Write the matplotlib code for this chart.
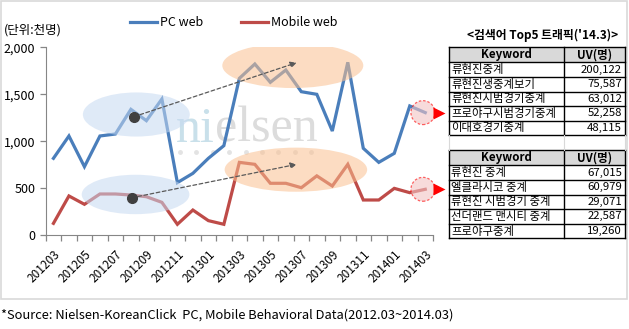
import matplotlib
matplotlib.use("Agg")
import matplotlib.pyplot as plt
from matplotlib.patches import Ellipse, Rectangle

plt.rcParams["font.family"] = ["Noto Sans CJK KR", "DejaVu Sans"]

# monthly unique visitors (thousands)
months = ["201203", "201204", "201205", "201206", "201207", "201208", "201209",
          "201210", "201211", "201212", "201301", "201302", "201303", "201304",
          "201305", "201306", "201307", "201308", "201309", "201310", "201311",
          "201312", "201401", "201402", "201403"]
pc_web = [817, 1055, 728, 1055, 1076, 1339, 1218, 1449, 558, 657, 817, 952,
          1669, 1822, 1627, 1758, 1527, 1499, 1108, 1840, 924, 774, 870, 1375, 1304]
mobile_web = [124, 416, 327, 437, 437, 426, 408, 348, 114, 266, 153, 114,
              774, 753, 551, 551, 504, 630, 522, 753, 373, 373, 497, 451, 487]

y_ticks = [0, 500, 1000, 1500, 2000]

table_title = "<검색어 Top5 트래픽('14.3)>"
table_header = ["Keyword", "UV(명)"]
pc_keywords = ["류현진중계", "류현진생중계보기", "류현진시범경기중계", "프로야구시범경기중계", "이대호경기중계"]
pc_uv = [200122, 75587, 63012, 52258, 48115]
mobile_keywords = ["류현진 중계", "엘클라시코 중계", "류현진 시범경기 중계", "선더랜드 맨시티 중계", "프로야구중계"]
mobile_uv = [67015, 60979, 29071, 22587, 19260]

PC_BLUE = "#4a7ebb"
MOBILE_RED = "#be4b48"
AXIS_GRAY = "#868686"

W, H = 629, 329
fig = plt.figure(figsize=(W / 100, H / 100), dpi=100)

# background layer in pixel coordinates: frame + watermark
bg = fig.add_axes([0, 0, 1, 1], zorder=0)
bg.set_xlim(0, W); bg.set_ylim(H, 0); bg.axis("off")
bg.add_patch(Rectangle((1, 1), W - 3, 298, fill=False, ec="#d9d9d9", lw=1.2))
bg.text(176, 142, "ni", fontsize=36, family="Liberation Serif", color="#c9e0ea", va="baseline")
bg.text(215, 142, "elsen", fontsize=36, family="Liberation Serif", color="#dcdcdc", va="baseline")
for i in range(9):
    bg.plot(180 + i * 16.4, 152, "o", ms=3.5, color="#e3e3e3", mec="none")

# main chart
ax = fig.add_axes([45.7 / W, 1 - 235 / H, (433 - 45.7) / W, (235 - 47.3) / H], zorder=1)
ax.patch.set_alpha(0)
x = list(range(len(months)))
ax.plot(x, pc_web, color=PC_BLUE, lw=2.3, solid_joinstyle="miter", zorder=2)
ax.plot(x, mobile_web, color=MOBILE_RED, lw=2.3, solid_joinstyle="miter", zorder=2)

ax.set_xlim(-0.5, len(months) - 0.5)
ax.set_ylim(0, 2000)
ax.set_yticks(y_ticks)
ax.set_yticklabels([f"{v:,}" for v in y_ticks], fontsize=9)
ax.set_xticks([i - 0.5 for i in range(len(months) + 1)])
ax.set_xticklabels([])
ax.set_xticks(x[::2], minor=True)
ax.set_xticklabels(months[::2], minor=True, rotation=45, ha="right",
                   rotation_mode="anchor", fontsize=8.5)
ax.tick_params(axis="x", which="minor", length=0, pad=9)
ax.tick_params(axis="both", which="major", direction="out", length=4,
               color=AXIS_GRAY, width=0.9)
for s in ["top", "right"]:
    ax.spines[s].set_visible(False)
for s in ["left", "bottom"]:
    ax.spines[s].set_color(AXIS_GRAY)

# highlight ellipses over the lines
for cx, cy, w, h, col in [(5.35, 1284, 6.9, 470, "#c6d9f1"),
                          (5.3, 432, 6.95, 420, "#c6d9f1"),
                          (15.45, 1806, 9.1, 480, "#fac090"),
                          (15.65, 696, 9.2, 470, "#fac090")]:
    ax.add_patch(Ellipse((cx, cy), w, h, fc=col, ec="none", alpha=0.55, zorder=3))

# trend arrows
for (x0, y0), (x1, y1) in [((5.2, 1261), (15.7, 1836)), ((5.05, 397), (15.7, 753))]:
    ax.annotate("", xy=(x1, y1), xytext=(x0, y0),
                arrowprops=dict(arrowstyle="-|>", color="#595959", lw=0.9,
                                ls=(0, (3, 2)), mutation_scale=9, shrinkA=0, shrinkB=0),
                zorder=4)
    ax.plot(x0, y0, "o", ms=7, color="#404040", zorder=5)

# latest-month markers
last = len(months) - 1
for v in [pc_web[-1], mobile_web[-1]]:
    ax.add_patch(Ellipse((last - 0.15, v), 1.55, 255, fc="#f2c4c4", ec="#ff0000",
                         lw=0.9, ls=(0, (2, 1.5)), alpha=0.6, zorder=4, clip_on=False))
    ax.plot(last + 0.88, v, ">", ms=8, color="#ff0000", mec="none", clip_on=False, zorder=5)

# foreground layer in pixel coordinates: legend, labels, tables
fg = fig.add_axes([0, 0, 1, 1], zorder=2)
fg.set_xlim(0, W); fg.set_ylim(H, 0); fg.axis("off")

fg.plot([130, 157], [22, 22], color=PC_BLUE, lw=2.3)
fg.text(160, 22, "PC web", fontsize=9, va="center")
fg.plot([241, 268], [22, 22], color=MOBILE_RED, lw=2.3)
fg.text(271, 22, "Mobile web", fontsize=9, va="center")
fg.text(4, 30, "(단위:천명)", fontsize=9, va="center")
fg.text(1, 315, "*Source: Nielsen-KoreanClick  PC, Mobile Behavioral Data(2012.03~2014.03)",
        fontsize=9.3, va="center")

fg.text(543, 35, table_title, fontsize=8.5, fontweight="bold", ha="center", va="center")

col_x = [449, 564, 625]
row_h = 14.6


def draw_table(top, keywords, values):
    fg.add_patch(Rectangle((col_x[0], top), col_x[2] - col_x[0], 15.3,
                           fc="#d9d9d9", ec="none"))
    fg.text((col_x[0] + col_x[1]) / 2, top + 7.8, table_header[0], fontsize=8.3,
            fontweight="bold", ha="center", va="center")
    fg.text((col_x[1] + col_x[2]) / 2, top + 7.8, table_header[1], fontsize=8.3,
            fontweight="bold", ha="center", va="center")
    bottom = top + 15.3 + row_h * len(keywords)
    ys = [top, top + 15.3] + [top + 15.3 + row_h * (i + 1) for i in range(len(keywords))]
    for y in ys:
        fg.plot([col_x[0], col_x[2]], [y, y], color="black", lw=1)
    for cx in col_x:
        fg.plot([cx, cx], [top, bottom], color="black", lw=1)
    for i, (k, v) in enumerate(zip(keywords, values)):
        yc = top + 15.3 + row_h * (i + 0.5)
        fg.text(col_x[0] + 2, yc, k, fontsize=8.2, ha="left", va="center")
        fg.text(col_x[2] - 3, yc, f"{v:,}", fontsize=8.2, ha="right", va="center")


draw_table(47, pc_keywords, pc_uv)
draw_table(150, mobile_keywords, mobile_uv)
# faint sheet gridlines between the tables
for cx in col_x:
    fg.plot([cx, cx], [135, 150], color="#d9d9d9", lw=0.8)

fig.savefig("out.png", dpi=100)
